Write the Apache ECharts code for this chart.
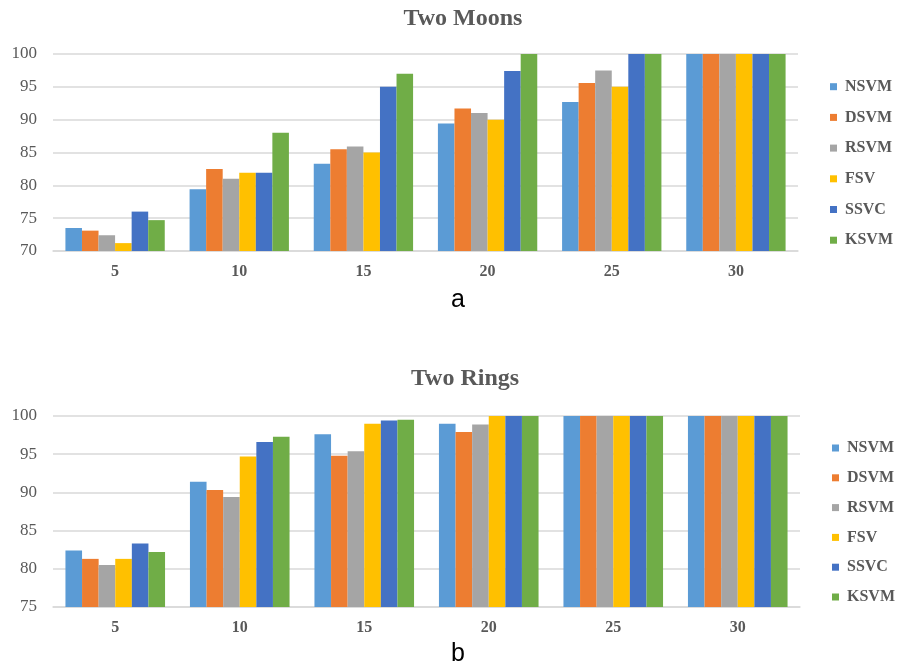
<!DOCTYPE html>
<html>
<head>
<meta charset="utf-8">
<script src="https://cdn.jsdelivr.net/npm/echarts@6/dist/echarts.min.js"></script>
<style>
  html, body { margin: 0; padding: 0; background: #fff; }
  #chart { width: 902px; height: 665px; }
</style>
</head>
<body>
<div id="chart"></div>
<script type="text/javascript">
// x categories (shared by both panels)
var sizes = ['5', '10', '15', '20', '25', '30'];
var methods = ['NSVM', 'DSVM', 'RSVM', 'FSV', 'SSVC', 'KSVM'];
var colors = ['#5B9BD5', '#ED7D31', '#A5A5A5', '#FFC000', '#4472C4', '#70AD47'];

// panel a - Two Moons
var moonsNSVM = [73.5, 79.4, 83.3, 89.4, 92.7, 100];
var moonsDSVM = [73.1, 82.5, 85.5, 91.7, 95.6, 100];
var moonsRSVM = [72.4, 81.0, 85.9, 91.0, 97.5, 100];
var moonsFSV  = [71.2, 81.9, 85.0, 90.0, 95.0, 100];
var moonsSSVC = [76.0, 81.9, 95.0, 97.4, 100, 100];
var moonsKSVM = [74.7, 88.0, 97.0, 100, 100, 100];

// panel b - Two Rings
var ringsNSVM = [82.4, 91.4, 97.6, 99.0, 100, 100];
var ringsDSVM = [81.3, 90.3, 94.8, 97.9, 100, 100];
var ringsRSVM = [80.5, 89.4, 95.4, 98.9, 100, 100];
var ringsFSV  = [81.3, 94.7, 99.0, 100, 100, 100];
var ringsSSVC = [83.3, 96.6, 99.4, 100, 100, 100];
var ringsKSVM = [82.2, 97.3, 99.5, 100, 100, 100];

var moons = [moonsNSVM, moonsDSVM, moonsRSVM, moonsFSV, moonsSSVC, moonsKSVM];
var rings = [ringsNSVM, ringsDSVM, ringsRSVM, ringsFSV, ringsSSVC, ringsKSVM];

var serif = '"Liberation Serif", "Times New Roman", serif';
var grey = '#595959';

function makeSeries(data, idx) {
	return data.map(function (vals, i) {
		return {
			name: methods[i],
			type: 'bar',
			xAxisIndex: idx,
			yAxisIndex: idx,
			barGap: '0%',
			barCategoryGap: '20%',
			itemStyle: { color: colors[i] },
			data: vals
		};
	});
}

function xAx(idx) {
	return {
		type: 'category',
		gridIndex: idx,
		data: sizes,
		axisLine: { lineStyle: { color: '#D9D9D9', width: 1.5 } },
		axisTick: { show: false },
		axisLabel: { color: grey, fontFamily: serif, fontWeight: 'bold', fontSize: 16, margin: 13 }
	};
}

function yAx(idx, min) {
	return {
		type: 'value',
		gridIndex: idx,
		min: min,
		max: 100,
		interval: 5,
		axisLine: { show: false },
		axisTick: { show: false },
		splitLine: { lineStyle: { color: '#D9D9D9', width: 1.5 } },
		axisLabel: { color: grey, fontFamily: serif, fontSize: 17, margin: 16 }
	};
}

function legendAt(left, top, gap) {
	return {
		orient: 'vertical',
		left: left,
		top: top,
		padding: 0,
		itemWidth: 7,
		itemHeight: 7,
		itemGap: gap,
		icon: 'rect',
		data: methods,
		textStyle: { color: grey, fontFamily: serif, fontWeight: 'bold', fontSize: 16, lineHeight: 16, padding: [0, 0, 0, 3] }
	};
}

var myChart = echarts.init(document.getElementById('chart'));
var option = {
	animation: false,
	title: [
		{ text: 'Two Moons', left: 458, top: 2, textAlign: 'center',
		  textStyle: { color: grey, fontFamily: serif, fontWeight: 'bold', fontSize: 24 } },
		{ text: 'Two Rings', left: 460, top: 362, textAlign: 'center',
		  textStyle: { color: grey, fontFamily: serif, fontWeight: 'bold', fontSize: 24 } }
	],
	legend: [legendAt(830, 78.7, 14.7), legendAt(832, 440, 13.8)],
	grid: [
		{ left: 53, right: 104, top: 54, height: 197 },
		{ left: 53, right: 102, top: 416, height: 191 }
	],
	xAxis: [xAx(0), xAx(1)],
	yAxis: [yAx(0, 70), yAx(1, 75)],
	graphic: [
		{ type: 'text', left: 451, top: 288, style: { text: 'a', fontSize: 25, fontFamily: '"Liberation Sans", Arial, sans-serif', fill: '#000' } },
		{ type: 'text', left: 451, top: 642, style: { text: 'b', fontSize: 25, fontFamily: '"Liberation Sans", Arial, sans-serif', fill: '#000' } }
	],
	series: makeSeries(moons, 0).concat(makeSeries(rings, 1))
};
myChart.setOption(option);
</script>
</body>
</html>
